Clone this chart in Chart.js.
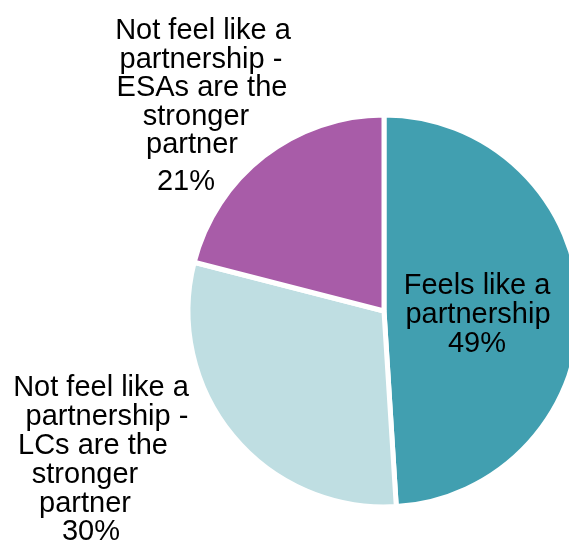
<!DOCTYPE html>
<html>
<head>
<meta charset="utf-8">
<script src="https://cdn.jsdelivr.net/npm/chart.js@4/dist/chart.umd.min.js"></script>
<style>
  html, body { margin: 0; padding: 0; background: #fff; overflow: hidden; }
  #wrap { position: relative; width: 600px; height: 547px; }
</style>
</head>
<body>
<div id="wrap"><canvas id="c" width="600" height="547"></canvas></div>
<script>
// Survey split: does the relationship feel like a partnership?
const categories = ['Feels like a partnership',
                    'Not feel like a partnership - LCs are the stronger partner',
                    'Not feel like a partnership - ESAs are the stronger partner'];
const labelLines = [
  ['Feels like a', 'partnership'],
  ['Not feel like a', 'partnership -', 'LCs are the', 'stronger', 'partner'],
  ['Not feel like a', 'partnership -', 'ESAs are the', 'stronger', 'partner']
];
const values = [49, 30, 21];
const sliceColors = ['#419fb0', '#bfdee2', '#a85ca8'];

// Label placement, measured from the pie centre (first baseline + per-line nudges)
const labelLayout = [
  { x: 93, y: -17, lineH: 29, pctGap: 29, nudge: [0, 1, 0] },
  { x: -284, y: 85, lineH: 29, pctGap: 28, nudge: [1, 7, -7, -15, -15, -9] },
  { x: -182, y: -272, lineH: 28.5, pctGap: 37, nudge: [1, -1, 0, -6, -10, -16] }
];

const sliceLabels = {
  id: 'sliceLabels',
  afterDatasetsDraw(chart) {
    const ctx = chart.ctx;
    const arcs = chart.getDatasetMeta(0).data;
    if (!arcs.length) return;
    const cx = arcs[0].x, cy = arcs[0].y;
    ctx.save();
    ctx.font = '29px "Liberation Sans", Arial, sans-serif';
    ctx.fillStyle = '#000';
    ctx.textAlign = 'center';
    ctx.textBaseline = 'alphabetic';
    values.forEach((v, i) => {
      const lay = labelLayout[i];
      const lines = labelLines[i].concat([v + '%']);
      let y = cy + lay.y;
      lines.forEach((t, j) => {
        if (j > 0) y += (j === lines.length - 1) ? lay.pctGap : lay.lineH;
        ctx.fillText(t, cx + lay.x + (lay.nudge[j] || 0), y);
      });
    });
    ctx.restore();
  }
};

new Chart(document.getElementById('c'), {
  type: 'pie',
  data: {
    labels: categories,
    datasets: [{
      data: values,
      backgroundColor: sliceColors,
      borderColor: '#ffffff',
      borderWidth: 5,
      hoverOffset: 0
    }]
  },
  options: {
    responsive: false,
    animation: false,
    radius: 196,
    layout: { padding: { left: 168, right: 0, top: 75, bottom: 0 } },
    plugins: {
      legend: { display: false },
      tooltip: { enabled: false }
    },
    events: []
  },
  plugins: [sliceLabels]
});
</script>
</body>
</html>
